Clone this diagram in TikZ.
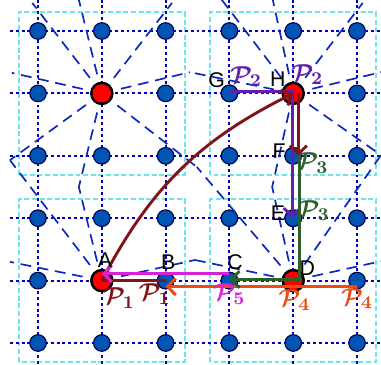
\documentclass[tikz,border=0pt]{standalone}
\usepackage{fontspec}
\usepackage{amsmath}
\setsansfont{Liberation Sans}
\usetikzlibrary{calc,arrows.meta}
\definecolor{gridblue}{RGB}{0,0,200}
\definecolor{rayblue}{RGB}{10,40,190}
\definecolor{nodeblue}{RGB}{0,84,180}
\definecolor{boxcyan}{RGB}{110,228,238}
\definecolor{pone}{RGB}{128,20,24}
\definecolor{ptwo}{RGB}{100,30,175}
\definecolor{pthree}{RGB}{45,95,45}
\definecolor{pfour}{RGB}{235,75,20}
\definecolor{pfive}{RGB}{215,35,215}
\begin{document}
\begin{tikzpicture}[x=1cm, y=0.978cm, >={Straight Barb[length=3.6pt, width=7.5pt]},
		bluenode/.style={circle, draw=black!70!blue, line width=0.5pt, fill=nodeblue, minimum size=7.4pt, inner sep=0pt},
		rednode/.style={circle, draw=black, line width=1.1pt, fill=red, minimum size=9.4pt, inner sep=0pt},
		gridline/.style={gridblue, line width=0.9pt, dash pattern=on 1.3pt off 1.3pt},
		ray/.style={rayblue, line width=0.75pt, dash pattern=on 4.8pt off 3pt, shorten <=3.5pt},
		cellbox/.style={boxcyan, line width=0.9pt, dash pattern=on 2.2pt off 1.2pt},
		track/.style={line width=1.3pt},
		letter/.style={font=\sffamily\fontsize{9.5}{10}\selectfont, inner sep=0pt},
		plabel/.style={font=\fontsize{11}{12}\selectfont, inner sep=0pt}]
		\useasboundingbox (-0.596,-0.337) rectangle (5.376,5.497);
		
		% Cell boxes
		\foreach \bx/\by in {0/0, 3/0, 0/3, 3/3}
			\draw[cellbox] (\bx-0.3,\by-0.3) rectangle (\bx+2.3,\by+2.3);
		
		% Dotted grid
		\foreach \k in {0,...,5} {
			\draw[gridline] (-0.44,\k) -- (5.376,\k);
			\draw[gridline] (\k,-0.337) -- (\k,5.497);
		}
		
		% Lattice points
		\foreach \i in {0,...,5}
			\foreach \j in {0,...,5}
				\node[bluenode] (n\i\j) at (\i,\j) {};
		\node[bluenode] (B) at (2,1) {};
		\node[bluenode] (C) at (3,1) {};
		\node[bluenode] (E) at (4,2) {};
		\node[bluenode] (F) at (4,3) {};
		\node[bluenode] (G) at (3,4) {};
		\node[rednode] (A) at (1,1) {};
		\node[rednode] (D) at (4,1) {};
		\node[rednode] (H) at (4,4) {};
		\node[rednode] (O) at (1,4) {};
		
		% Rays
		\foreach \ex/\ey in {-0.09/5.45, 0.64/5.5, 2.1/5.45, -0.41/4.33, 2.38/4.34, -0.44/2.93, 0.64/2.5, 2.49/2.82}
			\draw[ray] (O) -- (\ex,\ey);
		\foreach \ex/\ey in {2.88/5.5, 3.68/5.5, 5.09/5.45, 2.38/4.34, 5.376/4.34, 5.376/3.01, 3.67/2.5}
			\draw[ray] (H) -- (\ex,\ey);
		\foreach \ex/\ey in {-0.44/2.93, 0.64/2.5, -0.44/1.3, 2.46/1.33}
			\draw[ray] (A) -- (\ex,\ey);
		\foreach \ex/\ey in {2.49/2.82, 3.67/2.5, 5.376/3.01, 2.46/1.33, 5.376/1.31}
			\draw[ray] (D) -- (\ex,\ey);
		
		% Paths
		\draw[track, pfour, ->] ([yshift=-2.7pt]n51.center) -- ([yshift=-2.7pt]B.center);
		\draw[track, ptwo, ->] ([yshift=1pt]G.center) -| ([xshift=-0.5pt]E.center);
		\draw[track, pone] (B.center) -- (A.center);
		\draw[track, pone, ->] (A.center) to[bend left=18] (H.center);
		\draw[track, pone, ->] ([xshift=2.3pt]H.center) -- ([xshift=2.3pt]F.center);
		\draw[track, pthree, ->] ([xshift=2.6pt]F.center) |- ([yshift=0.5pt]C.center);
		\draw[track, pfive, ->] ([yshift=3pt]C.center) -- ([yshift=3pt]A.center);
		
		% Point names
		\node[letter] at ($(A)+(0.05,0.33)$) {A};
		\node[letter] at ($(B)+(0.04,0.3)$) {B};
		\node[letter] at ($(C)+(0.09,0.3)$) {C};
		\node[letter] at ($(D)+(0.22,0.2)$) {D};
		\node[letter] at ($(E)+(-0.24,0.08)$) {E};
		\node[letter] at ($(F)+(-0.22,0.08)$) {F};
		\node[letter] at ($(G)+(-0.2,0.21)$) {G};
		\node[letter] at ($(H)+(-0.24,0.23)$) {H};
		
		% Path names
		\node[plabel, text=pone] at ($(A)+(0.27,-0.28)$) {$\boldsymbol{\mathcal{P}_1}$};
		\node[plabel, text=pone] at ($(B)+(-0.17,-0.22)$) {$\boldsymbol{\mathcal{P}_1}$};
		\node[plabel, text=ptwo] at ($(G)+(0.26,0.27)$) {$\boldsymbol{\mathcal{P}_2}$};
		\node[plabel, text=ptwo] at ($(H)+(0.22,0.3)$) {$\boldsymbol{\mathcal{P}_2}$};
		\node[plabel, text=pthree] at ($(F)+(0.3,-0.12)$) {$\boldsymbol{\mathcal{P}_3}$};
		\node[plabel, text=pthree] at ($(E)+(0.32,0.12)$) {$\boldsymbol{\mathcal{P}_3}$};
		\node[plabel, text=pfour] at ($(D)+(0.02,-0.31)$) {$\boldsymbol{\mathcal{P}_4}$};
		\node[plabel, text=pfour] at ($(n51)+(0,-0.29)$) {$\boldsymbol{\mathcal{P}_4}$};
		\node[plabel, text=pfive] at ($(C)+(0,-0.22)$) {$\boldsymbol{\mathcal{P}_5}$};
	\end{tikzpicture}
\end{document}
